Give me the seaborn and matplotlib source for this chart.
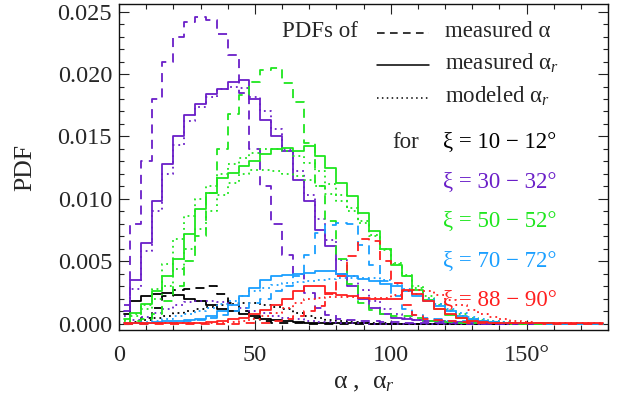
import numpy as np
import pandas as pd
import matplotlib
matplotlib.use("Agg")
import matplotlib.pyplot as plt
import seaborn as sns
from matplotlib.lines import Line2D
from matplotlib.ticker import MultipleLocator, FormatStrFormatter

sns.set_theme(style="ticks")
plt.rcParams["font.family"] = ["Liberation Serif", "DejaVu Serif"]
plt.rcParams["mathtext.fontset"] = "custom"
plt.rcParams["mathtext.rm"] = "Liberation Serif"
plt.rcParams["mathtext.it"] = "Liberation Serif:italic"
plt.rcParams["mathtext.bf"] = "Liberation Serif:bold"

# 4-degree bins, 0..180 deg; PDF values in units of 1e-3 per degree
alpha_bins = np.arange(2, 180, 4)

# xi = 10-12 deg
k_dash = [0, 0.1, 0.5, 1.3, 2.2, 2.7, 2.8, 2.9, 3.0, 2.4, 1.7, 1.0, 0.5, 0.2, 0.1,
          0.05, 0.03, 0.02] + [0] * 27
k_solid = [0.8, 1.8, 2.2, 2.4, 2.5, 2.3, 2.0, 1.8, 1.5, 1.2, 1.0, 0.8, 0.6, 0.4, 0.3,
           0.2, 0.15, 0.1, 0.08, 0.06, 0.05, 0.04, 0.03, 0.02, 0.02] + [0] * 20
k_dot = [0.05, 0.15, 0.3, 0.45, 0.65, 0.9, 1.05, 1.2, 1.35, 1.5, 1.6, 1.7, 1.65, 1.5, 1.35,
         1.15, 0.9, 0.65, 0.45, 0.3, 0.2, 0.13, 0.08, 0.05, 0.03] + [0.02] * 5 + [0] * 15

# xi = 30-32 deg
p_dash = [1.5, 8.0, 13.0, 18.0, 21.0, 23.0, 24.2, 24.6, 24.3, 23.2, 21.5, 18.5, 14.0, 11.0, 8.0,
          5.5, 4.0, 2.5, 1.3, 0.7, 0.4, 0.3, 0.25, 0.2, 0.15, 0.12, 0.1, 0.08, 0.06, 0.05,
          0.04, 0.03, 0.02] + [0.01] * 12
p_solid = [1.0, 3.5, 6.5, 9.8, 12.8, 15.0, 16.7, 17.6, 18.4, 18.8, 19.4, 19.5, 18.0, 16.3, 15.0,
           13.8, 11.5, 9.8, 7.5, 6.2, 4.0, 3.0, 2.0, 1.3, 0.8, 0.5, 0.4, 0.3, 0.25, 0.2,
           0.18, 0.15, 0.12, 0.1, 0.08, 0.05, 0.04, 0.03, 0.02] + [0.01] * 6
p_dot = [0.6, 2.8, 5.8, 9.0, 12.0, 14.3, 16.2, 17.4, 18.2, 18.8, 19.0, 18.9, 18.2, 17.0, 15.6,
         14.0, 12.2, 10.3, 8.4, 6.7, 5.1, 3.8, 2.7, 1.8, 1.2, 0.8, 0.5, 0.3, 0.2, 0.12,
         0.08, 0.05, 0.03, 0.02] + [0.01] * 11
p_dot_low = [0.1, 0.3, 0.55, 0.85, 1.2, 1.5, 1.75, 1.85, 1.85, 1.75, 1.5, 1.3, 1.05, 0.85, 0.65,
             0.5, 0.35, 0.25, 0.18, 0.12, 0.08, 0.05, 0.03] + [0.02] * 5 + [0] * 17

# xi = 50-52 deg
g_dash = [0.1, 0.2, 0.4, 0.8, 1.8, 3.0, 5.0, 7.0, 10.5, 14.0, 16.8, 18.3, 19.4, 20.3, 20.5,
          19.3, 17.8, 14.5, 11.0, 8.2, 5.2, 3.2, 1.7, 1.1, 0.8, 0.6, 0.6, 0.45, 0.25, 0.2,
          0.15, 0.1, 0.08, 0.05, 0.04, 0.03] + [0.02] * 9
g_solid = [0.4, 0.9, 1.6, 2.6, 3.8, 5.2, 7.2, 9.2, 10.5, 11.7, 12.1, 12.6, 13.0, 13.6, 14.0,
           14.1, 13.8, 14.2, 13.4, 12.5, 11.3, 10.2, 8.9, 7.4, 6.0, 4.7, 3.8, 2.7, 1.9, 1.2,
           0.7, 0.45, 0.3, 0.2, 0.15, 0.1, 0.08, 0.05, 0.04, 0.03] + [0.02] * 5
g_dot = [0.3, 0.8, 1.5, 2.8, 4.8, 6.8, 8.6, 10.0, 11.0, 12.0, 12.8, 13.3, 13.7, 14.0, 14.0,
         13.8, 13.4, 12.9, 12.2, 11.2, 10.3, 9.3, 8.2, 7.0, 5.9, 4.8, 3.8, 2.9, 2.1, 1.5,
         1.0, 0.65, 0.4, 0.25, 0.15, 0.1, 0.06, 0.04, 0.03] + [0.02] * 6
g_dot_low = [0.2, 0.6, 1.2, 2.0, 3.0, 4.4, 6.0, 7.6, 9.0, 10.3, 11.3, 12.0, 12.3, 12.3, 12.2,
             12.0, 11.8, 11.5, 11.0, 10.4, 9.8, 9.0, 8.1, 7.1, 6.0, 4.9, 3.9, 3.0, 2.2, 1.6,
             1.1, 0.75, 0.5, 0.3, 0.2, 0.12, 0.07, 0.04, 0.03] + [0.02] * 6

# xi = 70-72 deg
b_dash = [0, 0, 0.02, 0.03, 0.05, 0.1, 0.2, 0.3, 0.5, 0.7, 1.0, 1.3, 1.7, 2.0, 2.6,
          3.0, 3.8, 5.5, 7.3, 7.9, 8.1, 8.0, 6.3, 4.7, 3.4, 2.2, 1.2, 0.7, 0.45, 0.35,
          0.25, 0.2, 0.15, 0.1, 0.08, 0.06, 0.05, 0.04, 0.03] + [0.02] * 6
b_solid = [0.05, 0.08, 0.1, 0.15, 0.2, 0.25, 0.3, 0.35, 0.6, 1.0, 1.5, 2.2, 2.9, 3.5, 3.8,
           3.9, 4.0, 4.1, 4.2, 4.2, 4.0, 3.8, 3.6, 3.4, 3.2, 3.0, 2.6, 2.2, 1.8, 1.4,
           1.0, 0.6, 0.35, 0.2, 0.12, 0.08, 0.05, 0.04, 0.03] + [0.02] * 6
b_dot = [0.05, 0.1, 0.15, 0.25, 0.4, 0.6, 0.8, 1.05, 1.3, 1.55, 1.8, 2.2, 2.6, 2.9, 3.1,
         3.25, 3.35, 3.45, 3.5, 3.6, 3.65, 3.7, 3.7, 3.65, 3.5, 3.2, 2.8, 2.4, 2.0, 1.6,
         1.2, 0.85, 0.55, 0.35, 0.2, 0.12, 0.07, 0.04, 0.03] + [0.02] * 6

# xi = 88-90 deg
r_dash = [0.02] * 11 + [0.05, 0.08, 0.1, 0.2, 0.35, 0.6, 1.0, 1.4, 2.4, 3.8, 5.4, 6.8, 6.6, 5.0,
                        3.3, 1.5, 0.7, 0.4, 0.3, 0.2, 0.15, 0.1] + [0.05] * 6 + [0.02] * 6
r_solid = [0.05] * 6 + [0.08, 0.1, 0.15, 0.25, 0.35, 0.5, 0.8, 1.1, 1.5, 2.0, 2.6, 3.0, 3.0, 2.5,
                        2.3, 2.2, 2.05, 2.0, 1.95, 2.0, 2.7, 2.4, 1.8, 1.2, 0.8, 0.45, 0.25,
                        0.15, 0.1, 0.08, 0.06, 0.05, 0.04] + [0.03] * 6
r_dot = [0.03] * 8 + [0.06, 0.1, 0.15, 0.25, 0.4, 0.6, 0.9, 1.3, 1.7, 2.0, 2.1, 2.15, 2.15, 2.15,
                      2.1, 2.1, 2.1, 2.3, 2.6, 2.7, 2.6, 2.3, 1.9, 1.5, 1.1, 0.8, 0.55, 0.35,
                      0.22, 0.13, 0.08, 0.05] + [0.03] * 5

xi_labels = ["10 \u2212 12\u00b0", "30 \u2212 32\u00b0", "50 \u2212 52\u00b0",
             "70 \u2212 72\u00b0", "88 \u2212 90\u00b0"]
xi_colors = ["#000000", "#6a1fc8", "#1fe61f", "#1a9fff", "#ff1f1f"]

series = [
    (0, "dash", k_dash), (0, "solid", k_solid), (0, "dot", k_dot),
    (1, "dash", p_dash), (1, "solid", p_solid), (1, "dot", p_dot), (1, "dot", p_dot_low),
    (2, "dash", g_dash), (2, "solid", g_solid), (2, "dot", g_dot), (2, "dot", g_dot_low),
    (3, "dash", b_dash), (3, "solid", b_solid), (3, "dot", b_dot),
    (4, "dash", r_dash), (4, "solid", r_solid), (4, "dot", r_dot),
]
line_styles = {"dash": (0, (5, 3.5)), "solid": "-", "dot": (0, (1, 2.2))}

fig = plt.figure(figsize=(6.24, 4.09), dpi=100)
ax = fig.add_axes([0.1907, 0.193, 0.7837, 0.797])

for xi_idx, kind, vals in series:
    df = pd.DataFrame({"alpha": alpha_bins, "pdf": np.asarray(vals, float) * 1e-3})
    sns.lineplot(data=df, x="alpha", y="pdf", ax=ax, color=xi_colors[xi_idx],
                 linestyle=line_styles[kind], linewidth=1.3, drawstyle="steps-mid",
                 estimator=None, legend=False)

ax.set_xlim(0, 180)
ax.set_ylim(-0.0005, 0.0256)

ax.set_xticks([0, 50, 100, 150])
ax.set_xticklabels(["0", "50", "100", "150\u00b0"])
ax.xaxis.set_minor_locator(MultipleLocator(10))
ax.yaxis.set_major_locator(MultipleLocator(0.005))
ax.yaxis.set_minor_locator(MultipleLocator(0.001))
ax.yaxis.set_major_formatter(FormatStrFormatter("%.3f"))

ax.tick_params(which="both", direction="in", top=True, right=True, color="#222222", width=0.8)
ax.tick_params(which="major", length=7, labelsize=17.5)
ax.tick_params(which="minor", length=3.5)
ax.tick_params(axis="x", which="major", pad=11)
ax.tick_params(axis="y", which="major", pad=5)
for sp in ax.spines.values():
    sp.set_linewidth(1.0)
    sp.set_color("#111111")

ax.set_ylabel("PDF", fontsize=18.5, labelpad=15)
ax.set_xlabel("\u03b1 ,  \u03b1$_r$", fontsize=18.5, labelpad=4)

# key for line styles and xi ranges
fs = 16.5
tr = ax.transAxes
ax.text(0.333, 0.899, "PDFs of", transform=tr, fontsize=fs, va="baseline")
key_rows = [("dash", 0.911, 0.899, "measured \u03b1"),
            ("solid", 0.813, 0.798, "measured \u03b1$_r$"),
            ("dot", 0.712, 0.696, "modeled \u03b1$_r$")]
for kind, ly, ty, txt in key_rows:
    ax.add_line(Line2D([0.528, 0.634], [ly, ly], transform=tr, color="black",
                       linestyle=line_styles[kind], linewidth=1.1))
    ax.text(0.667, ty, txt, transform=tr, fontsize=fs, va="baseline")

ax.text(0.558, 0.558, "for", transform=tr, fontsize=fs, va="baseline")
for i, (lab, col) in enumerate(zip(xi_labels, xi_colors)):
    ax.text(0.663, 0.558 - i * 0.121, "\u03be = " + lab,
            transform=tr, fontsize=fs, va="baseline", color=col)

fig.savefig("out.png", dpi=100)
